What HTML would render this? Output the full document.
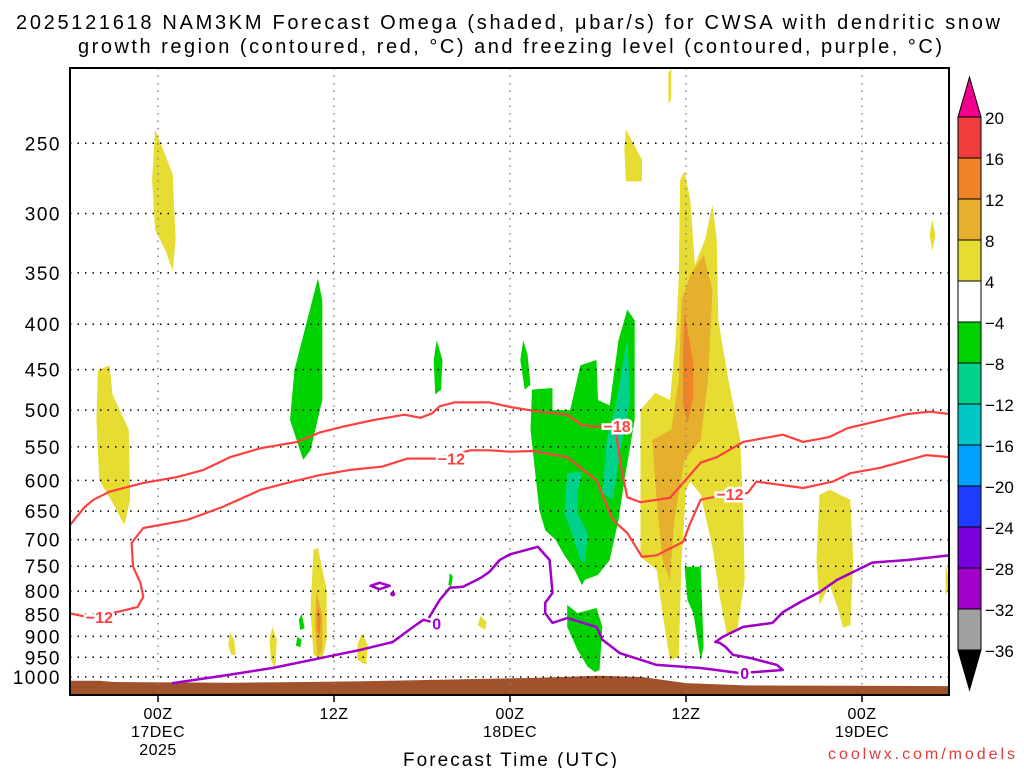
<!DOCTYPE html>
<html><head><meta charset="utf-8"><style>
body{margin:0;background:#fff;}
svg text{font-family:"Liberation Sans",sans-serif;}
</style></head><body>
<svg id="chart" width="1024" height="768" viewBox="0 0 1024 768" xmlns="http://www.w3.org/2000/svg">
<rect width="1024" height="768" fill="#fff"/>
<text x="16" y="29" font-size="20" textLength="984" lengthAdjust="spacing">2025121618 NAM3KM Forecast Omega (shaded, μbar/s) for CWSA with dendritic snow</text>
<text x="78" y="53" font-size="20" textLength="864" lengthAdjust="spacing">growth region (contoured, red, °C) and freezing level (contoured, purple, °C)</text>
<defs><clipPath id="plotclip"><rect x="70" y="68" width="879" height="627"/></clipPath></defs>
<g id="shading" clip-path="url(#plotclip)"></g>
<g id="ground" clip-path="url(#plotclip)"></g>
<g id="grid"></g>
<g id="contours" clip-path="url(#plotclip)"></g>
<rect x="70" y="68" width="879" height="627" fill="none" stroke="#000" stroke-width="2"/>
<g id="axes"></g>
<g id="colorbar"></g>
<text x="403" y="766" font-size="19" textLength="214" lengthAdjust="spacing">Forecast Time (UTC)</text>
<text x="828" y="759" font-size="16" textLength="187" lengthAdjust="spacing" fill="#e03c3c">coolwx.com/models</text>
</svg>
<script>
// ---- data: forecast hour relative to 00Z 17DEC, pressure hPa ----
const pressureTicks = [250,300,350,400,450,500,550,600,650,700,750,800,850,900,950,1000];
const timeTickHours = [0,12,24,36,48];
const timeTickLine1 = ["00Z","12Z","00Z","12Z","00Z"];
const timeTickLine2 = ["17DEC","","18DEC","","19DEC"];
const timeTickLine3 = ["2025","","","",""];
const colorbarLevels = ["20","16","12","8","4","−4","−8","−12","−16","−20","−24","−28","−32","−36"];
const colorbarColors = ["#f03c3c","#f08228","#e6af2d","#e6dc32","#ffffff","#00d200","#00d28c","#00c8c8","#00a0ff","#1e3cff","#7800dc","#a000c8","#a0a0a0"];

const yellowAreas = [
 [[-4.1,451],[-3.3,445],[-3.1,480],[-2.0,526],[-1.9,631],[-2.3,674],[-3.0,640],[-4.0,600],[-4.2,513]],
 [[-0.2,241],[0.1,248],[1.0,271],[1.2,321],[1.0,348],[0.5,330],[-0.2,313],[-0.4,275]],
 [[32.9,500],[33.9,478],[34.9,487],[35.3,417],[35.5,357],[35.6,275],[35.9,269],[36.3,290],[36.6,343],[37.3,321],[37.8,293],[38.1,321],[38.2,396],[38.9,463],[39.7,540],[39.9,653],[40.0,777],[39.5,885],[38.8,897],[38.3,812],[37.8,713],[37.0,623],[36.3,602],[36.0,615],[35.7,738],[35.5,949],[34.9,957],[34.4,847],[34.0,757],[32.9,732]],
 [[34.8,208],[35.0,206],[35.0,223],[34.8,226]],
 [[31.9,241],[32.3,248],[33.0,261],[33.0,276],[31.9,276],[31.8,254]],
 [[52.8,305],[53.0,317],[52.8,331],[52.6,317]],
 [[53.7,748],[53.9,767],[53.9,798],[53.7,808]],
 [[45.1,623],[45.8,615],[47.2,631],[47.4,738],[47.2,874],[46.7,880],[46.4,840],[45.8,788],[45.1,829],[44.9,738]],
 [[4.9,890],[5.2,908],[5.3,944],[5.0,944],[4.8,920]],
 [[7.8,878],[8.1,908],[8.0,977],[7.7,957],[7.6,908]],
 [[10.6,719],[10.9,715],[11.5,798],[11.5,908],[11.2,957],[10.6,944],[10.4,840]],
 [[13.9,892],[14.3,920],[14.2,969],[13.6,957],[13.6,920]],
 [[22.0,853],[22.4,867],[22.3,885],[21.8,874]]
];
const orange8Areas = [
 [[33.7,540],[35.0,526],[35.5,463],[35.7,376],[36.3,352],[37.2,334],[37.8,366],[37.5,463],[37.0,540],[35.9,569],[35.2,665],[34.9,777],[34.4,738],[34.0,631]],
 [[10.8,800],[11.2,851],[11.2,930],[10.9,950],[10.7,874]]
];
const orange12Areas = [
 [[35.9,388],[36.5,442],[36.5,483],[36.1,517],[35.8,491],[35.8,428]],
 [[10.9,830],[11.1,860],[11.0,900],[10.85,880]]
];
const greenAreas = [
 [[10.9,355],[11.2,376],[11.2,487],[10.4,555],[9.9,569],[9.0,513],[9.3,451],[10.0,406]],
 [[19.0,417],[19.4,439],[19.3,474],[18.9,480],[18.8,439]],
 [[24.9,417],[25.2,433],[25.4,468],[25.0,474],[24.7,439]],
 [[25.5,474],[26.9,472],[26.9,500],[28.1,500],[28.8,445],[29.9,439],[30.0,487],[30.8,494],[31.4,417],[32.0,385],[32.5,396],[32.5,513],[31.8,600],[31.4,665],[30.8,738],[30.0,767],[29.1,777],[28.9,788],[28.4,757],[27.7,729],[27.1,700],[26.4,683],[26.0,648],[25.7,584],[25.4,526]],
 [[27.9,829],[28.6,847],[29.9,836],[30.3,878],[30.1,982],[29.8,987],[29.3,974],[28.6,932],[27.9,878]],
 [[35.9,751],[37.0,751],[37.2,925],[37.0,957],[36.5,847],[36.1,819]],
 [[9.5,901],[9.8,908],[9.7,925],[9.4,922]],
 [[9.8,849],[10.0,881],[9.7,885],[9.6,862]],
 [[19.9,763],[20.1,770],[20.0,791],[19.8,787]]
];
const tealAreas = [
 [[32.0,416],[32.2,487],[31.5,558],[31.0,631],[30.3,620],[30.6,540],[31.2,495],[31.7,442]],
 [[27.9,589],[28.9,587],[28.6,620],[28.6,653],[29.3,688],[29.1,743],[28.8,738],[28.2,688],[27.7,653]]
];
const groundSurface = [[-6.2,1010],[-4,1010],[-3,1013],[5,1015],[10,1013],[14,1011],[18,1008],[22,1005],[26,1002],[30,997],[33,1000],[36,1016],[40,1022],[54.2,1024]];

const contourMinus18 = [[-6.1,677],[-5.0,643],[-4.4,631],[-3.3,618],[-1.0,604],[1.3,595],[3.1,584],[4.9,565],[7.0,552],[9.5,543],[11.0,530],[12.6,522],[14.7,513],[16.8,506],[17.9,510],[18.7,504],[19.2,495],[20.2,490],[22.6,490],[24.0,496],[26.0,502],[27.9,506],[28.9,520],[29.9,522],[31.2,517],[31.3,540],[31.6,584],[32.0,627],[32.9,635],[34.9,628],[35.8,604],[37.0,573],[38.1,565],[39.9,543],[42.6,533],[44.0,543],[45.8,536],[47.0,524],[48.7,516],[51.1,505],[52.6,502],[54.0,505]];
const contourMinus12 = [[-6.1,847],[-4.8,856],[-3.1,847],[-1.4,834],[-1.0,812],[-1.2,783],[-1.7,751],[-1.8,706],[-1.0,679],[0.1,674],[2.0,665],[4.4,643],[7.0,615],[8.8,604],[11.0,592],[13.1,584],[15.3,579],[17.0,567],[19.0,567],[21.3,555],[22.6,555],[24.0,557],[25.6,556],[27.9,565],[29.9,600],[31.0,665],[32.0,688],[33.0,732],[34.0,729],[35.8,704],[36.3,670],[37.0,631],[37.8,627],[40.2,620],[40.8,602],[44.0,612],[46.0,602],[47.2,589],[49.2,581],[52.4,562],[54.0,565]];
const freezingA = [[1.0,1016],[4.7,995],[7.8,977],[11.5,949],[13.8,932],[16.0,913],[17.4,878],[18.1,862],[18.7,867]];
const freezingB = [[18.5,856],[19.2,819],[19.9,793],[20.8,791],[22.0,773],[22.6,761],[23.3,738],[24.0,727],[25.9,713],[26.7,738],[26.9,804],[26.4,825],[26.4,847],[26.9,869],[27.9,858],[29.9,878],[30.3,908],[31.5,940],[34.0,969],[37.0,977],[39.7,990],[42.6,982],[42.2,969],[40.4,952],[39.2,944],[38.7,925],[38.3,915],[38.0,913],[38.5,901],[39.9,878],[41.9,869],[42.6,845],[43.8,823],[45.1,802],[46.3,777],[48.7,743],[51.1,738],[54.0,729]];
const freezingLoop = [[14.5,789],[15.1,783],[15.8,789],[15.1,796],[14.5,789]];
const freezingDot = [[16.0,806]];
const redLabels = [["−18",31.3,521],["−12",-4.0,856],["−12",20.0,567],["−12",39.0,622]];
const purpleLabels = [["0",19.0,870],["0",40.0,990]];

// ---- scales ----
function X(h){ return 158 + h*14.6667; }
function Y(p){ return 677 - 385*Math.log(1000/p); }
const NS = "http://www.w3.org/2000/svg";
function mk(tag, attrs, parent){ const e=document.createElementNS(NS,tag); for(const k in attrs) e.setAttribute(k,attrs[k]); parent.appendChild(e); return e; }
function pts(arr){ return arr.map(d=>X(d[0]).toFixed(1)+","+Y(d[1]).toFixed(1)).join(" "); }

const shading = document.getElementById("shading");
function drawAreas(list, color, name){
  list.forEach(a=>{
    const el = mk("polygon",{points:pts(a),fill:color},shading);
    
    
  });
}
drawAreas(yellowAreas,"#e6dc32","omega-4-8-area");
drawAreas(orange8Areas,"#e6af2d","omega-8-12-area");
drawAreas(orange12Areas,"#f08228","omega-12-16-area");
drawAreas(greenAreas,"#00d200","omega-minus4-minus8-area");
drawAreas(tealAreas,"#00d28c","omega-minus8-minus12-area");

// ground
const groundG = document.getElementById("ground");
const gp = groundSurface.map(d=>[X(d[0]),Y(d[1])]);
const gpoly = gp.map(p=>p[0].toFixed(1)+","+p[1].toFixed(1)).join(" ") + " " + gp[gp.length-1][0].toFixed(1)+",700 " + gp[0][0].toFixed(1)+",700";
const gEl = mk("polygon",{points:gpoly,fill:"#a0522d"},groundG);



// grid
const grid = document.getElementById("grid");
pressureTicks.forEach(p=>{
  const l = mk("line",{x1:70,x2:949,y1:Y(p),y2:Y(p),stroke:"#000","stroke-width":1.5,"stroke-dasharray":"1.5 6"},grid);
  
  
});
timeTickHours.forEach(h=>{
  const l = mk("line",{x1:X(h),x2:X(h),y1:68,y2:695,stroke:"#888","stroke-width":1.5,"stroke-dasharray":"1.5 6"},grid);
  
  
});

// contours
const cont = document.getElementById("contours");
function drawLine(arr,color,w,name){
  const el = mk("polyline",{points:pts(arr),fill:"none",stroke:color,"stroke-width":w,"stroke-linejoin":"round","stroke-linecap":"round"},cont);
  
  
}
drawLine(contourMinus18,"#ff4040",2.2,"dgz-minus18-contour");
drawLine(contourMinus12,"#ff4040",2.2,"dgz-minus12-contour");
drawLine(freezingA,"#a000c8",2.5,"freezing-level-contour");
drawLine(freezingB,"#a000c8",2.5,"freezing-level-contour");
drawLine(freezingLoop,"#a000c8",2.5,"freezing-level-small-contour");
freezingDot.forEach(d=>{
  const c = mk("circle",{cx:X(d[0]),cy:Y(d[1]),r:2.5,fill:"#a000c8"},cont);
  
  
});
function drawLabels(list,color,name){
  list.forEach(d=>{
    const t = mk("text",{x:X(d[1]),y:Y(d[2])+6,"font-size":16,"font-weight":"bold","text-anchor":"middle",fill:color,stroke:"#fff","stroke-width":5,"paint-order":"stroke"},cont);
    t.textContent = d[0];
    
    
  });
}
drawLabels(redLabels,"#ff4040","dgz-contour-label");
drawLabels(purpleLabels,"#a000c8","freezing-contour-label");

// axes
const axes = document.getElementById("axes");
pressureTicks.forEach(p=>{
  const t = mk("text",{x:61,y:Y(p)+7,"font-size":19,"text-anchor":"end","letter-spacing":"1.5"},axes);
  t.textContent = p;
  
  
});
timeTickHours.forEach((h,i)=>{
  const tk = mk("line",{x1:X(h),x2:X(h),y1:695,y2:702,stroke:"#000","stroke-width":1.5},axes);
  
  
  [timeTickLine1[i],timeTickLine2[i],timeTickLine3[i]].forEach((s,j)=>{
    if(!s) return;
    const t = mk("text",{x:X(h),y:719+j*18,"font-size":16,"text-anchor":"middle","letter-spacing":"0.5"},axes);
    t.textContent = s;
    
    
  });
});

// colorbar
const cb = document.getElementById("colorbar");
const cbx=958, cbw=23, cbTop=117, cbStep=41;
const tri1 = mk("polygon",{points:`${cbx},${cbTop} ${cbx+cbw},${cbTop} ${cbx+cbw/2},${cbTop-40}`,fill:"#f0008c",stroke:"#000","stroke-width":1},cb);


colorbarColors.forEach((c,i)=>{
  const r = mk("rect",{x:cbx,y:cbTop+i*cbStep,width:cbw,height:cbStep,fill:c,stroke:"#000","stroke-width":1},cb);
  
  
});
const yEnd = cbTop+colorbarColors.length*cbStep;
const tri2 = mk("polygon",{points:`${cbx},${yEnd} ${cbx+cbw},${yEnd} ${cbx+cbw/2},${yEnd+40}`,fill:"#000",stroke:"#000","stroke-width":1},cb);


colorbarLevels.forEach((s,i)=>{
  const t = mk("text",{x:985,y:cbTop+i*cbStep+7,"font-size":17},cb);
  t.textContent = s;
  
  
});
</script>
</body></html>
